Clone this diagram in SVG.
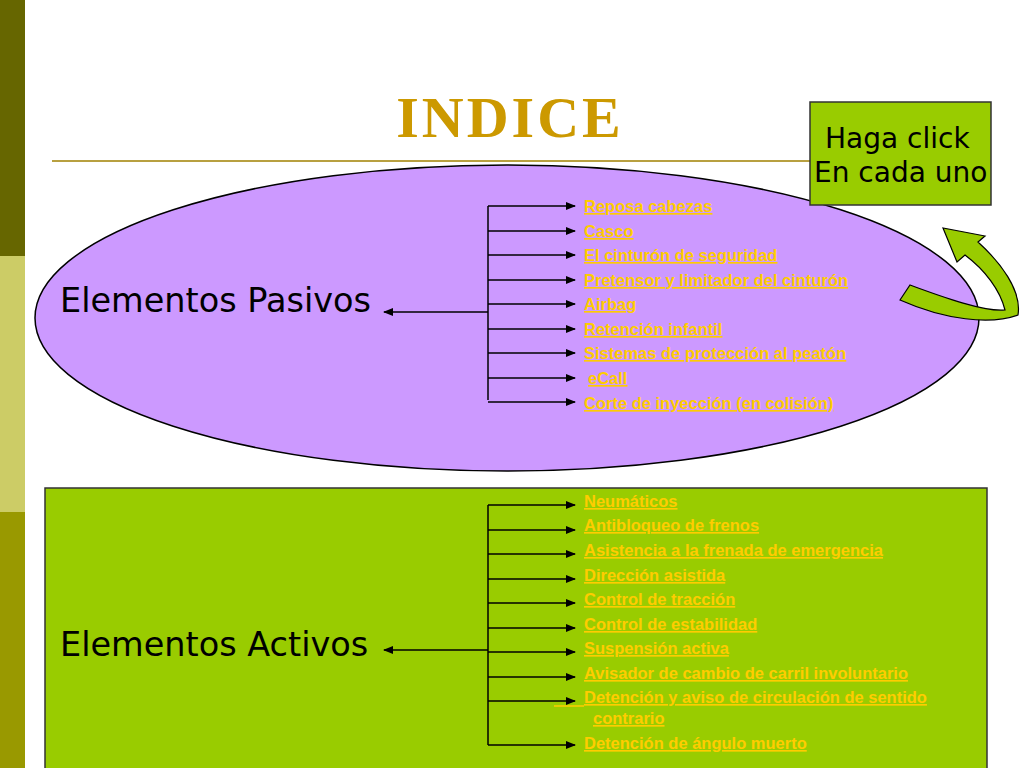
<svg xmlns="http://www.w3.org/2000/svg" width="1024" height="768" viewBox="0 0 1024 768">
<style>
.l{font-family:"Liberation Sans",Arial,sans-serif;font-size:16.5px;font-weight:bold;fill:#ffcc00;text-decoration:underline}
.big{font-family:"DejaVu Sans",sans-serif;font-size:33.5px;fill:#000}
.c{stroke:#000;stroke-width:1.5;fill:none}
.a{stroke:#000;stroke-width:1.5;fill:none;marker-end:url(#ar)}
</style>
<defs><marker id="ar" markerWidth="10" markerHeight="8" refX="9" refY="4" orient="auto" markerUnits="userSpaceOnUse"><path d="M0,0L10,4L0,8z" fill="#000"/></marker></defs>
<rect width="1024" height="768" fill="#fff"/>
<rect x="0" y="0" width="25" height="256" fill="#666600"/>
<rect x="0" y="256" width="25" height="256" fill="#cccc66"/>
<rect x="0" y="512" width="25" height="256" fill="#999900"/>
<text x="510" y="137" text-anchor="middle" font-family="Liberation Serif,serif" font-weight="bold" font-size="58" letter-spacing="3" fill="#cc9900">INDICE</text>
<line x1="52" y1="161" x2="810" y2="161" stroke="#b8a040" stroke-width="2"/>
<g id="pasivos">
<ellipse cx="507" cy="318" rx="472" ry="153" fill="#cc99ff" stroke="#000" stroke-width="1.5"/>
<text x="60" y="312" class="big">Elementos Pasivos</text>
</g>
<g id="activos">
<rect x="45" y="488" width="942" height="285" fill="#99cc00" stroke="#333" stroke-width="1.5"/>
<text x="60" y="656" class="big">Elementos Activos</text>
</g>
<g id="hint">
<rect x="810" y="102" width="181" height="103" fill="#99cc00" stroke="#333" stroke-width="1.5"/>
<text x="825" y="148" font-family="DejaVu Sans,sans-serif" font-size="28">Haga click</text>
<text x="814" y="182" font-family="DejaVu Sans,sans-serif" font-size="28">En cada uno</text>
<path d="M900,300 L910,285 C945,298 985,312 1005,310 C1000,290 985,270 965,255 L957,262 L943,228 L985,236 L978,242 C1000,262 1022,290 1018,315 C990,325 945,320 900,300 Z" fill="#99cc00" stroke="#000" stroke-width="1.2"/>
</g>
<g id="pasivos-items">
<text class="l" x="584" y="212">Reposa cabezas</text>
<text class="l" x="584" y="237">Casco</text>
<text class="l" x="584" y="261">El cinturón de seguridad</text>
<text class="l" x="584" y="286">Pretensor y limitador del cinturón</text>
<text class="l" x="584" y="310">Airbag</text>
<text class="l" x="584" y="335">Retención infantil</text>
<text class="l" x="584" y="359">Sistemas de protección al peatón</text>
<text class="l" x="588" y="384">eCall</text>
<text class="l" x="584" y="409">Corte de inyección (en colisión)</text>
</g>
<g id="activos-items">
<text class="l" x="584" y="507">Neumáticos</text>
<text class="l" x="584" y="531">Antibloqueo de frenos</text>
<text class="l" x="584" y="556">Asistencia a la frenada de emergencia</text>
<text class="l" x="584" y="581">Dirección asistida</text>
<text class="l" x="584" y="605">Control de tracción</text>
<text class="l" x="584" y="630">Control de estabilidad</text>
<text class="l" x="584" y="654">Suspensión activa</text>
<text class="l" x="584" y="679">Avisador de cambio de carril involuntario</text>
<line x1="554" y1="706" x2="584" y2="706" stroke="#ffcc00" stroke-width="1.5"/>
<text class="l" x="584" y="703">Detención y aviso de circulación de sentido</text>
<text class="l" x="593" y="724">contrario</text>
<text class="l" x="584" y="749">Detención de ángulo muerto</text>
</g>
<g id="connectors">
<path class="c" d="M488,206V400"/>
<path class="a" d="M488,312H384"/>
<path class="a" d="M488,206H575"/><path class="a" d="M488,231H575"/><path class="a" d="M488,255H575"/><path class="a" d="M488,280H575"/><path class="a" d="M488,304H575"/><path class="a" d="M488,329H575"/><path class="a" d="M488,353H575"/><path class="a" d="M488,378H575"/><path class="a" d="M488,402H575"/>
<path class="c" d="M488,505V745"/>
<path class="a" d="M488,650H384"/>
<path class="a" d="M488,505H575"/><path class="a" d="M488,530H575"/><path class="a" d="M488,554H575"/><path class="a" d="M488,579H575"/><path class="a" d="M488,603H575"/><path class="a" d="M488,628H575"/><path class="a" d="M488,652H575"/><path class="a" d="M488,677H575"/><path class="a" d="M488,701H575"/><path class="a" d="M488,745H575"/>
</g>
</svg>
